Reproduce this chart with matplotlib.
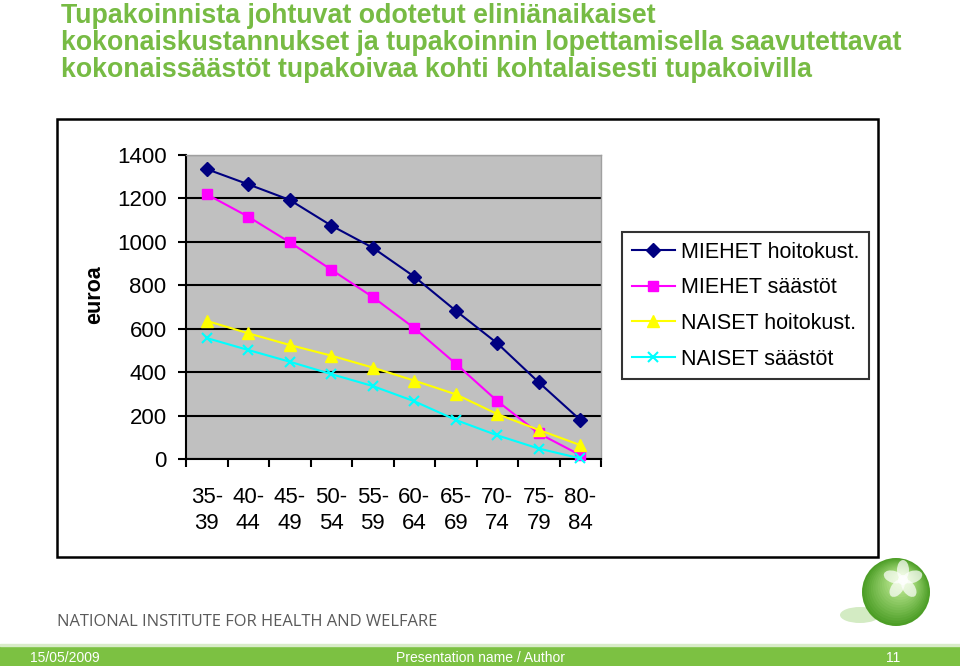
import matplotlib
matplotlib.use("Agg")
import matplotlib.pyplot as plt
from matplotlib.patches import Rectangle, Ellipse, Circle
import numpy as np

categories = ["35-\n39", "40-\n44", "45-\n49", "50-\n54", "55-\n59",
              "60-\n64", "65-\n69", "70-\n74", "75-\n79", "80-\n84"]
miehet_hoito = [1335, 1265, 1193, 1075, 973, 840, 683, 533, 353, 180]
miehet_saasto = [1219, 1116, 998, 872, 746, 603, 439, 267, 118, 18]
naiset_hoito = [636, 579, 525, 476, 421, 361, 298, 207, 134, 64]
naiset_saasto = [557, 502, 448, 391, 336, 266, 180, 109, 48, 3]
series_names = ["MIEHET hoitokust.", "MIEHET säästöt", "NAISET hoitokust.", "NAISET säästöt"]
yticks = [0, 200, 400, 600, 800, 1000, 1200, 1400]
title_lines = ["Tupakoinnista johtuvat odotetut eliniänaikaiset",
               "kokonaiskustannukset ja tupakoinnin lopettamisella saavutettavat",
               "kokonaissäästöt tupakoivaa kohti kohtalaisesti tupakoivilla"]

W, H = 960, 666
fig = plt.figure(figsize=(W / 100, H / 100), dpi=100)
plt.rcParams['font.family'] = ['Liberation Sans', 'DejaVu Sans']

def fx(px):
    return px / W

def fy(py):
    return 1 - py / H

# Title
for i, line in enumerate(title_lines):
    fig.text(fx(61), fy(23 + 27 * i), line, color="#77bb44", fontsize=19.3,
             fontweight="bold", va="baseline", ha="left")

# Chart outer box
fig.patches.append(Rectangle((fx(57), fy(557)), fx(878) - fx(57), fy(119) - fy(557),
                             transform=fig.transFigure, fill=False, edgecolor="black",
                             linewidth=1.8, zorder=0))

ax = fig.add_axes([fx(186), fy(459), fx(601) - fx(186), fy(155) - fy(459)])
ax.set_facecolor("#c0c0c0")
x = np.arange(len(categories))
l1, = ax.plot(x, miehet_hoito, color="#000080", marker="D", markersize=7, lw=1.5, clip_on=False, zorder=5)
l2, = ax.plot(x, miehet_saasto, color="#ff00ff", marker="s", markersize=7.5, lw=1.5, clip_on=False, zorder=4)
l3, = ax.plot(x, naiset_hoito, color="#ffff00", marker="^", markersize=8.5, lw=1.5, clip_on=False, zorder=4)
l4, = ax.plot(x, naiset_saasto, color="#00ffff", marker="x", markersize=7, mew=1.5, lw=1.5, clip_on=False, zorder=4)

ax.set_xlim(-0.5, len(categories) - 0.5)
ax.set_ylim(0, 1400)
ax.set_yticks(yticks)
ax.set_yticklabels([str(v) for v in yticks], fontsize=16)
ax.yaxis.grid(True, color="black", lw=1.5)
ax.set_axisbelow(True)
ax.tick_params(axis="y", direction="out", length=6, width=1.5, pad=8)

ax.set_xticks(np.arange(-0.5, len(categories), 1.0))
ax.set_xticklabels([])
ax.tick_params(axis="x", which="major", direction="out", length=6, width=1.5)
ax.set_xticks(x, minor=True)
ax.set_xticklabels(categories, minor=True, fontsize=16, linespacing=1.35)
ax.tick_params(axis="x", which="minor", length=0, pad=20)

for s in ["top", "right"]:
    ax.spines[s].set_color("#a0a0a0")
    ax.spines[s].set_linewidth(1)
for s in ["left", "bottom"]:
    ax.spines[s].set_color("black")
    ax.spines[s].set_linewidth(1.5)

fig.text(fx(95), fy(295), "euroa", rotation=90, fontsize=15.5, fontweight="bold",
         ha="center", va="center")

leg = fig.legend([l1, l2, l3, l4], series_names, loc="upper left",
                 bbox_to_anchor=(fx(622), fy(232)), fontsize=15.5,
                 frameon=True, fancybox=False, edgecolor="black", handlelength=2.0,
                 handletextpad=0.3, labelspacing=0.68, borderpad=0.45, borderaxespad=0)
leg.get_frame().set_linewidth(1.5)

# Footer
fig.text(fx(57), fy(622), "NATIONAL INSTITUTE FOR HEALTH AND WELFARE", color="#5a5a5a",
         fontsize=11.9, family=["Open Sans", "DejaVu Sans"], va="center", ha="left")
fig.patches.append(Rectangle((0, 0), 1, fy(645), transform=fig.transFigure,
                             color="#7cc142", zorder=0))
fig.patches.append(Rectangle((0, fy(646)), 1, fy(644) - fy(646), transform=fig.transFigure,
                             color="#d8ecc8", zorder=0))
narrow = ["Liberation Sans Narrow", "Liberation Sans", "DejaVu Sans"]
fig.text(fx(30), fy(658), "15/05/2009", color="white", fontsize=10, family=narrow, va="center")
fig.text(fx(480), fy(658), "Presentation name / Author", color="white", fontsize=10,
         family=narrow, va="center", ha="center")
fig.text(fx(893), fy(658), "11", color="white", fontsize=10, family=narrow, va="center", ha="center")

# Logo sphere
lax = fig.add_axes([fx(840), fy(640), fx(940) - fx(840), fy(550) - fy(640)])
lax.set_xlim(0, 100)
lax.set_ylim(90, 0)
lax.set_aspect("equal")
lax.axis("off")
lax.add_patch(Ellipse((20, 65), 40, 16, color="#c9e6b5", alpha=0.8, lw=0))
cx, cy, r = 56, 42, 34
for t in np.linspace(0, 1, 16):
    c = np.array([0.30, 0.62, 0.15]) * (1 - t) + np.array([0.75, 0.92, 0.58]) * t
    rr = r * (1 - 0.8 * t)
    lax.add_patch(Circle((cx + 6 * t, cy - 12 * t), rr, color=c, lw=0))
fcx, fcy = 63, 30
for ang in [-90, -18, 54, 126, 198]:
    a = np.deg2rad(ang)
    lax.add_patch(Ellipse((fcx + 10 * np.cos(a), fcy + 10 * np.sin(a)), 20, 12,
                          angle=ang, color="white", alpha=0.7, lw=0))
lax.add_patch(Circle((fcx, fcy), 5, color="white", alpha=0.8, lw=0))

fig.savefig("out.png", dpi=100)
